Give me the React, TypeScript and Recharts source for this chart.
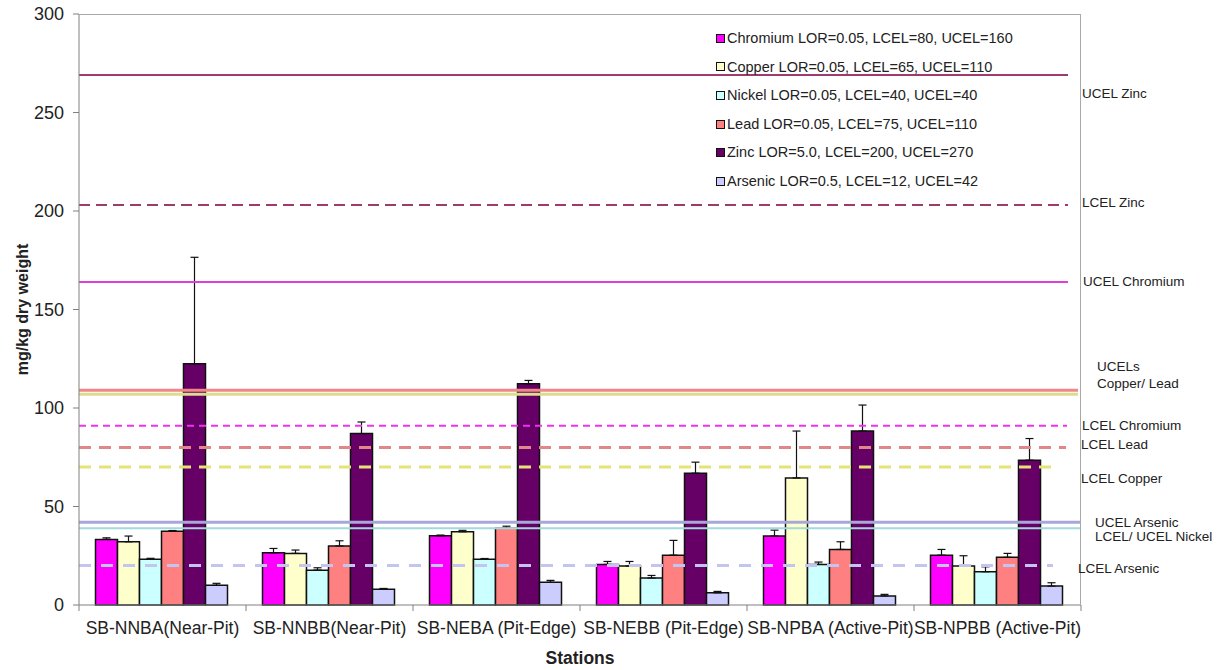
import React from 'react'
import { BarChart, Bar, XAxis, YAxis, ErrorBar, ReferenceLine } from 'recharts'

const stations = [
    'SB-NNBA(Near-Pit)',
    'SB-NNBB(Near-Pit)',
    'SB-NEBA (Pit-Edge)',
    'SB-NEBB (Pit-Edge)',
    'SB-NPBA (Active-Pit)',
    'SB-NPBB (Active-Pit)'
]

// mean concentrations (mg/kg) and upper error
const chromium = [33.3, 26.5, 35.1, 20.6, 35.0, 25.3]
const chromiumErr = [0.8, 2.2, 0.4, 1.5, 3.0, 2.9]
const copper = [32.1, 26.2, 37.2, 19.8, 64.5, 19.8]
const copperErr = [2.9, 1.7, 0.7, 2.3, 23.8, 5.2]
const nickel = [23.2, 17.7, 23.2, 13.7, 20.6, 16.9]
const nickelErr = [0.5, 1.2, 0.4, 1.3, 1.2, 2.5]
const lead = [37.5, 30.0, 39.0, 25.3, 28.2, 24.2]
const leadErr = [0.3, 2.6, 1.0, 7.5, 3.9, 2.0]
const zinc = [122.5, 87.0, 112.3, 66.9, 88.3, 73.5]
const zincErr = [54.0, 5.9, 1.7, 5.6, 13.2, 11.0]
const arsenic = [10.0, 8.0, 11.5, 6.2, 4.6, 9.6]
const arsenicErr = [1.0, 0.4, 1.0, 0.7, 0.8, 1.7]

const legendLabels = [
    'Chromium LOR=0.05, LCEL=80, UCEL=160',
    'Copper LOR=0.05, LCEL=65, UCEL=110',
    'Nickel LOR=0.05, LCEL=40, UCEL=40',
    'Lead LOR=0.05, LCEL=75, UCEL=110',
    'Zinc LOR=5.0, LCEL=200, UCEL=270',
    'Arsenic LOR=0.5, LCEL=12, UCEL=42'
]

// guideline levels as drawn on the chart
const limitNames = ['ucelZinc', 'lcelZinc', 'ucelChromium', 'ucelLead', 'ucelCopper', 'lcelChromium', 'lcelLead', 'lcelCopper', 'ucelArsenic', 'nickel', 'lcelArsenic']
const limitValues = [269, 203, 164, 109, 107, 91, 80, 70, 42, 39, 20]

const yTicks = [0, 50, 100, 150, 200, 250, 300]

const seriesKeys = ['chromium', 'copper', 'nickel', 'lead', 'zinc', 'arsenic']
const seriesColors = ['#FF00FF', '#FFFFCC', '#CCFFFF', '#FF8080', '#660066', '#CCCCFF']

const limitStyle: Record<string, { stroke: string; width: number; dash?: string; trim: number }> = {
    ucelZinc: { stroke: '#9e3a6e', width: 2, trim: 13 },
    lcelZinc: { stroke: '#9e3a6e', width: 2, dash: '11 6', trim: 13 },
    ucelChromium: { stroke: '#dd3fdd', width: 2, trim: 13 },
    ucelLead: { stroke: '#f08888', width: 3, trim: 3 },
    ucelCopper: { stroke: '#dcdc8c', width: 3, trim: 3 },
    lcelChromium: { stroke: '#ee33ee', width: 2, dash: '7 5', trim: 14 },
    lcelLead: { stroke: '#e08888', width: 3, dash: '12 8', trim: 15 },
    lcelCopper: { stroke: '#e4e476', width: 3, dash: '12 8', trim: 27 },
    ucelArsenic: { stroke: '#a8a8d8', width: 3, trim: 0 },
    nickel: { stroke: '#a0dada', width: 2, trim: 0 },
    lcelArsenic: { stroke: '#c4c4f0', width: 3, dash: '12 10', trim: 28 }
}

const sideLabels = [
    { text: 'UCEL Zinc', x: 1082, y: 93 },
    { text: 'LCEL Zinc', x: 1082, y: 202 },
    { text: 'UCEL Chromium', x: 1083, y: 281 },
    { text: 'UCELs', x: 1097, y: 366 },
    { text: 'Copper/ Lead', x: 1097, y: 383 },
    { text: 'LCEL Chromium', x: 1082, y: 425 },
    { text: 'LCEL Lead', x: 1081, y: 444 },
    { text: 'LCEL Copper', x: 1081, y: 478 },
    { text: 'UCEL Arsenic', x: 1095, y: 522 },
    { text: 'LCEL/ UCEL Nickel', x: 1095, y: 536 },
    { text: 'LCEL Arsenic', x: 1078, y: 568 }
]

const values = [chromium, copper, nickel, lead, zinc, arsenic]
const errors = [chromiumErr, copperErr, nickelErr, leadErr, zincErr, arsenicErr]

const rows = stations.map((station, i) => {
    const row: any = { station }
    seriesKeys.forEach((k, s) => {
        row[k] = values[s][i]
        row[k + 'Err'] = [0, errors[s][i]]
    })
    return row
})

const FONT = "Arial, 'Liberation Sans', sans-serif"
const HALF_BAND = 83.5

const StationTick = (props: any) => {
    const { x, y, payload, index } = props
    return (
        <g>
            <line x1={x - HALF_BAND} y1={y} x2={x - HALF_BAND} y2={y + 6} stroke="#808080" />
            {index === stations.length - 1 && (
                <line x1={x + HALF_BAND} y1={y} x2={x + HALF_BAND} y2={y + 6} stroke="#808080" />
            )}
            <text x={x} y={y + 28.5} textAnchor="middle" fontSize={17.5} fill="#222" fontFamily={FONT}>
                {payload.value}
            </text>
        </g>
    )
}

const makeLine = (name: string) => (p: any) => {
    const st = limitStyle[name]
    return (
        <line
            x1={p.x1}
            y1={p.y1}
            x2={p.x2 - st.trim}
            y2={p.y2}
            stroke={st.stroke}
            strokeWidth={st.width}
            strokeDasharray={st.dash}
        />
    )
}

export default function App() {
    return (
        <div style={{ position: 'absolute', left: 0, top: 0, width: 1225, height: 670, background: '#fff', fontFamily: FONT }}>
            <BarChart
                width={1225}
                height={670}
                data={rows}
                margin={{ top: 14, right: 144, left: 19, bottom: 0 }}
                barCategoryGap={16.5}
                barGap={0}
            >
                <XAxis
                    dataKey="station"
                    height={65}
                    tickLine={false}
                    tickSize={0}
                    tickMargin={0}
                    interval={0}
                    axisLine={{ stroke: '#808080' }}
                    tick={<StationTick />}
                    label={{ value: 'Stations', position: 'insideBottom', offset: 6, style: { fontSize: 17.5, fontWeight: 700, fill: '#222', fontFamily: FONT } }}
                />
                <YAxis
                    width={60}
                    domain={[0, 300]}
                    ticks={yTicks}
                    interval={0}
                    tickSize={6}
                    tickMargin={9}
                    axisLine={{ stroke: '#808080' }}
                    tickLine={{ stroke: '#808080' }}
                    tick={{ fontSize: 18, fill: '#222', fontFamily: FONT }}
                    label={{ value: 'mg/kg dry weight', angle: -90, position: 'insideLeft', offset: 3, style: { fontSize: 16, fontWeight: 700, fill: '#222', fontFamily: FONT, textAnchor: 'middle' } }}
                />
                {seriesKeys.map((k, s) => (
                    <Bar key={k} dataKey={k} fill={seriesColors[s]} stroke="#111" strokeWidth={1.5} isAnimationActive={false}>
                        <ErrorBar dataKey={k + 'Err'} width={4} stroke="#111" strokeWidth={1.2} direction="y" />
                    </Bar>
                ))}
                {limitNames.map((name, i) => (
                    <ReferenceLine key={name} y={limitValues[i]} ifOverflow="extendDomain" shape={makeLine(name)} />
                ))}
            </BarChart>

            {/* plot frame: top and right edges */}
            <div
                style={{
                    position: 'absolute', left: 79, top: 14, width: 1002, height: 591,
                    borderTop: '1px solid #a8a8a8', borderRight: '1px solid #a8a8a8',
                    boxSizing: 'border-box', pointerEvents: 'none'
                }}
            />

            <div style={{ position: 'absolute', left: 716, top: 24, fontSize: 14.5, color: '#222', lineHeight: '28.6px' }}>
                {legendLabels.map((label, i) => (
                    <div key={label} style={{ display: 'flex', alignItems: 'center', height: 28.6 }}>
                        <span style={{ width: 7, height: 7, border: '1px solid #111', background: seriesColors[i], marginRight: 2, display: 'inline-block' }} />
                        {label}
                    </div>
                ))}
            </div>

            {sideLabels.map((l) => (
                <div
                    key={l.text}
                    style={{ position: 'absolute', left: l.x, top: l.y, transform: 'translateY(-50%)', fontSize: 13.5, color: '#222', whiteSpace: 'nowrap', lineHeight: '13px' }}
                >
                    {l.text}
                </div>
            ))}
        </div>
    )
}
